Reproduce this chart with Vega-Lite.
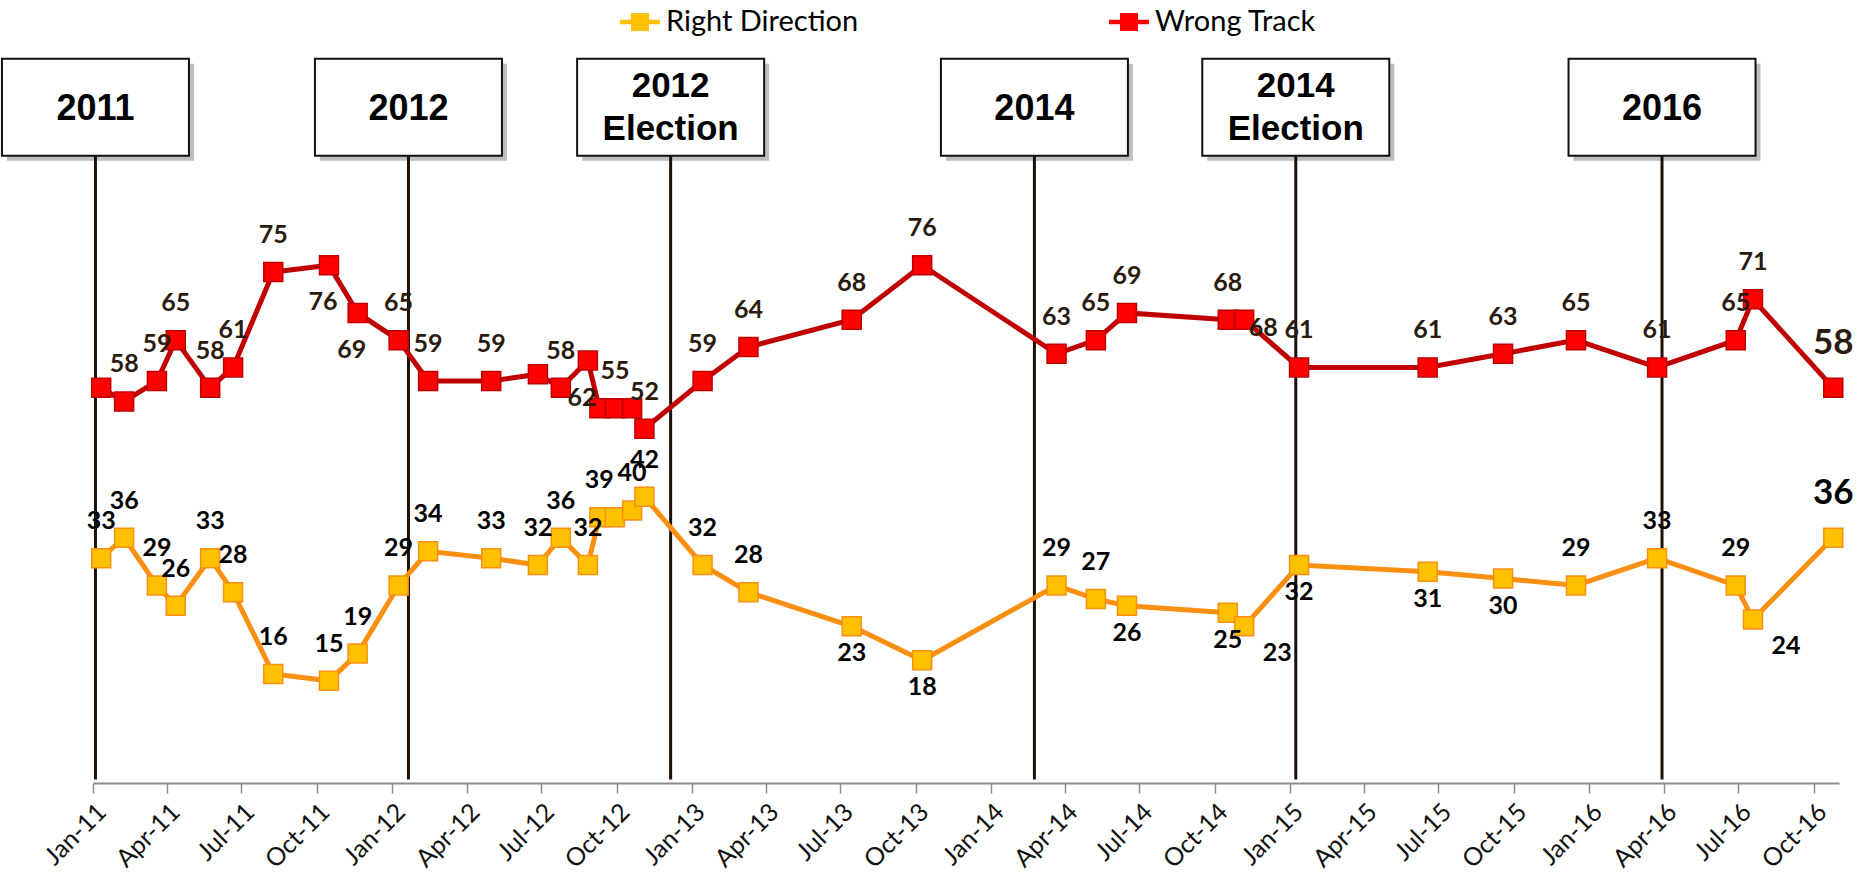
{
  "$schema": "https://vega.github.io/schema/vega-lite/v6.json",
  "width": 1746,
  "height": 729,
  "autosize": {"type": "none"},
  "padding": {"left": 93, "top": 54, "right": 33, "bottom": 109},
  "background": "white",
  "config": {"view": {"stroke": null}},
  "datasets": {
    "polls": [
      {"date": "2011-01-11", "series": "Right Direction", "value": 33, "label": "33"},
      {"date": "2011-02-08", "series": "Right Direction", "value": 36, "label": "36"},
      {"date": "2011-03-20", "series": "Right Direction", "value": 29, "label": "29"},
      {"date": "2011-04-12", "series": "Right Direction", "value": 26, "label": "26"},
      {"date": "2011-05-24", "series": "Right Direction", "value": 33, "label": "33"},
      {"date": "2011-06-21", "series": "Right Direction", "value": 28, "label": "28"},
      {"date": "2011-08-09", "series": "Right Direction", "value": 16, "label": "16"},
      {"date": "2011-10-16", "series": "Right Direction", "value": 15, "label": "15"},
      {"date": "2011-11-20", "series": "Right Direction", "value": 19, "label": "19"},
      {"date": "2012-01-09", "series": "Right Direction", "value": 29, "label": "29"},
      {"date": "2012-02-14", "series": "Right Direction", "value": 34, "label": "34"},
      {"date": "2012-05-01", "series": "Right Direction", "value": 33, "label": "33"},
      {"date": "2012-06-27", "series": "Right Direction", "value": 32, "label": "32"},
      {"date": "2012-07-25", "series": "Right Direction", "value": 36, "label": "36"},
      {"date": "2012-08-27", "series": "Right Direction", "value": 32, "label": "32"},
      {"date": "2012-09-10", "series": "Right Direction", "value": 39, "label": "39"},
      {"date": "2012-09-29", "series": "Right Direction", "value": 39, "label": ""},
      {"date": "2012-10-20", "series": "Right Direction", "value": 40, "label": "40"},
      {"date": "2012-11-04", "series": "Right Direction", "value": 42, "label": "42"},
      {"date": "2013-01-14", "series": "Right Direction", "value": 32, "label": "32"},
      {"date": "2013-03-11", "series": "Right Direction", "value": 28, "label": "28"},
      {"date": "2013-07-15", "series": "Right Direction", "value": 23, "label": "23"},
      {"date": "2013-10-09", "series": "Right Direction", "value": 18, "label": "18"},
      {"date": "2014-03-22", "series": "Right Direction", "value": 29, "label": "29"},
      {"date": "2014-05-09", "series": "Right Direction", "value": 27, "label": "27"},
      {"date": "2014-06-16", "series": "Right Direction", "value": 26, "label": "26"},
      {"date": "2014-10-17", "series": "Right Direction", "value": 25, "label": "25"},
      {"date": "2014-11-06", "series": "Right Direction", "value": 23, "label": "23"},
      {"date": "2015-01-12", "series": "Right Direction", "value": 32, "label": "32"},
      {"date": "2015-06-18", "series": "Right Direction", "value": 31, "label": "31"},
      {"date": "2015-09-18", "series": "Right Direction", "value": 30, "label": "30"},
      {"date": "2015-12-16", "series": "Right Direction", "value": 29, "label": "29"},
      {"date": "2016-03-24", "series": "Right Direction", "value": 33, "label": "33"},
      {"date": "2016-06-28", "series": "Right Direction", "value": 29, "label": "29"},
      {"date": "2016-07-19", "series": "Right Direction", "value": 24, "label": "24"},
      {"date": "2016-10-25", "series": "Right Direction", "value": 36, "label": "36"},
      {"date": "2011-01-11", "series": "Wrong Track", "value": 58, "label": ""},
      {"date": "2011-02-08", "series": "Wrong Track", "value": 56, "label": "58"},
      {"date": "2011-03-20", "series": "Wrong Track", "value": 59, "label": "59"},
      {"date": "2011-04-12", "series": "Wrong Track", "value": 65, "label": "65"},
      {"date": "2011-05-24", "series": "Wrong Track", "value": 58, "label": "58"},
      {"date": "2011-06-21", "series": "Wrong Track", "value": 61, "label": "61"},
      {"date": "2011-08-09", "series": "Wrong Track", "value": 75, "label": "75"},
      {"date": "2011-10-16", "series": "Wrong Track", "value": 76, "label": "76"},
      {"date": "2011-11-20", "series": "Wrong Track", "value": 69, "label": "69"},
      {"date": "2012-01-09", "series": "Wrong Track", "value": 65, "label": "65"},
      {"date": "2012-02-14", "series": "Wrong Track", "value": 59, "label": "59"},
      {"date": "2012-05-01", "series": "Wrong Track", "value": 59, "label": "59"},
      {"date": "2012-06-27", "series": "Wrong Track", "value": 60, "label": ""},
      {"date": "2012-07-25", "series": "Wrong Track", "value": 58, "label": "58"},
      {"date": "2012-08-27", "series": "Wrong Track", "value": 62, "label": "62"},
      {"date": "2012-09-10", "series": "Wrong Track", "value": 55, "label": ""},
      {"date": "2012-09-29", "series": "Wrong Track", "value": 55, "label": "55"},
      {"date": "2012-10-20", "series": "Wrong Track", "value": 55, "label": ""},
      {"date": "2012-11-04", "series": "Wrong Track", "value": 52, "label": "52"},
      {"date": "2013-01-14", "series": "Wrong Track", "value": 59, "label": "59"},
      {"date": "2013-03-11", "series": "Wrong Track", "value": 64, "label": "64"},
      {"date": "2013-07-15", "series": "Wrong Track", "value": 68, "label": "68"},
      {"date": "2013-10-09", "series": "Wrong Track", "value": 76, "label": "76"},
      {"date": "2014-03-22", "series": "Wrong Track", "value": 63, "label": "63"},
      {"date": "2014-05-09", "series": "Wrong Track", "value": 65, "label": "65"},
      {"date": "2014-06-16", "series": "Wrong Track", "value": 69, "label": "69"},
      {"date": "2014-10-17", "series": "Wrong Track", "value": 68, "label": "68"},
      {"date": "2014-11-06", "series": "Wrong Track", "value": 68, "label": "68"},
      {"date": "2015-01-12", "series": "Wrong Track", "value": 61, "label": "61"},
      {"date": "2015-06-18", "series": "Wrong Track", "value": 61, "label": "61"},
      {"date": "2015-09-18", "series": "Wrong Track", "value": 63, "label": "63"},
      {"date": "2015-12-16", "series": "Wrong Track", "value": 65, "label": "65"},
      {"date": "2016-03-24", "series": "Wrong Track", "value": 61, "label": "61"},
      {"date": "2016-06-28", "series": "Wrong Track", "value": 65, "label": "65"},
      {"date": "2016-07-19", "series": "Wrong Track", "value": 71, "label": "71"},
      {"date": "2016-10-25", "series": "Wrong Track", "value": 58, "label": "58"}
    ],
    "events": [
      {"date": "2011-01-04", "event": "2011"},
      {"date": "2012-01-21", "event": "2012"},
      {"date": "2012-12-06", "event": "2012\nElection"},
      {"date": "2014-02-23", "event": "2014"},
      {"date": "2015-01-08", "event": "2014\nElection"},
      {"date": "2016-03-30", "event": "2016"}
    ]
  },
  "data": {"name": "polls", "format": {"parse": {"date": "date"}}},
  "encoding": {
    "x": {
      "field": "date",
      "type": "temporal",
      "scale": {
        "type": "utc",
        "domain": [
          {"year": 2011, "month": 1, "date": 1, "utc": true},
          {"year": 2016, "month": 11, "date": 1, "utc": true}
        ]
      },
      "axis": {
        "title": null,
        "format": "%b-%y",
        "tickCount": {"interval": "month", "step": 3},
        "labelAngle": -45,
        "labelFont": "Lato",
        "labelFontSize": 25,
        "labelColor": "#111111",
        "labelPadding": 6,
        "labelOverlap": false,
        "domainColor": "#8c8c8c",
        "domainWidth": 2,
        "tickColor": "#8c8c8c",
        "tickWidth": 1.5,
        "tickSize": 10,
        "grid": false
      }
    }
  },
  "layer": [
    {
      "data": {"name": "events", "format": {"parse": {"date": "date"}}},
      "mark": {"type": "rect", "width": 187, "height": 97, "fill": "#6e6e6e", "opacity": 0.45, "xOffset": 5, "yOffset": 5, "clip": false},
      "encoding": {"y": {"datum": 99.2, "type": "quantitative", "scale": {"domain": [0, 107], "nice": false, "zero": true}, "axis": null}}
    },
    {
      "data": {"name": "events", "format": {"parse": {"date": "date"}}},
      "mark": {"type": "rule", "color": "#1e1006", "strokeWidth": 3},
      "encoding": {"y": {"datum": 0.5, "type": "quantitative"}, "y2": {"datum": 92}}
    },
    {
      "data": {"name": "events", "format": {"parse": {"date": "date"}}},
      "mark": {"type": "rect", "width": 187, "height": 97, "fill": "white", "stroke": "#111111", "strokeWidth": 2, "clip": false},
      "encoding": {"y": {"datum": 99.2, "type": "quantitative"}}
    },
    {
      "data": {"name": "events", "format": {"parse": {"date": "date"}}},
      "transform": [{"filter": "indexof(datum.event, 'Election') < 0"}],
      "mark": {"type": "text", "font": "Liberation Sans", "fontWeight": "bold", "fontSize": 36, "align": "center", "baseline": "middle", "color": "#000000"},
      "encoding": {"y": {"datum": 99.0, "type": "quantitative"}, "text": {"field": "event"}}
    },
    {
      "data": {"name": "events", "format": {"parse": {"date": "date"}}},
      "transform": [{"filter": "indexof(datum.event, 'Election') >= 0"}],
      "mark": {"type": "text", "font": "Liberation Sans", "fontWeight": "bold", "fontSize": 35, "lineHeight": 43, "lineBreak": "\n", "align": "center", "baseline": "middle", "dy": -21, "color": "#000000"},
      "encoding": {"y": {"datum": 99.2, "type": "quantitative"}, "text": {"field": "event"}}
    },
    {
      "mark": {"type": "line", "strokeWidth": 5},
      "encoding": {
        "y": {"field": "value", "type": "quantitative"},
        "color": {
          "field": "series",
          "type": "nominal",
          "scale": {"domain": ["Right Direction", "Wrong Track"], "range": ["#fb8f12", "#c00000"]},
          "legend": {
            "title": null,
            "orient": "none",
            "legendX": 527,
            "legendY": -52,
            "direction": "horizontal",
            "padding": 0,
            "columnPadding": 250,
            "symbolType": "M-1,-0.11L1,-0.11L1,0.11L-1,0.11Z M-0.45,-0.45L0.45,-0.45L0.45,0.45L-0.45,0.45Z",
            "symbolSize": 1600,
            "symbolStrokeWidth": 0,
            "labelFont": "Lato",
            "labelFontSize": 29,
            "labelColor": "#000000",
            "labelOffset": 6,
            "labelLimit": 400,
            "encode": {"symbols": {"update": {"fill": {"scale": "color", "field": "value"}, "strokeWidth": {"value": 0}, "opacity": {"value": 1}}}}
          }
        }
      }
    },
    {
      "mark": {"type": "point", "shape": "square", "size": 361, "filled": false, "strokeWidth": 1.5, "opacity": 1},
      "encoding": {
        "y": {"field": "value", "type": "quantitative"},
        "color": {"field": "series", "type": "nominal", "legend": null},
        "fill": {"field": "series", "type": "nominal", "scale": {"domain": ["Right Direction", "Wrong Track"], "range": ["#ffc000", "#ff0000"]}, "legend": null}
      }
    },
    {
      "transform": [{"filter": "datum.series=='Wrong Track' && indexof(['2011-10-16','2011-11-20','2012-08-27','2014-11-06','2016-10-25'], utcFormat(datum.date,'%Y-%m-%d')) < 0"}],
      "mark": {"type": "text", "font": "Lato", "fontWeight": "bold", "fontSize": 25, "color": "#2a1b0e", "baseline": "middle", "dy": -37},
      "encoding": {"y": {"field": "value", "type": "quantitative"}, "text": {"field": "label"}}
    },
    {
      "transform": [{"filter": "datum.series=='Wrong Track' && indexof(['2011-10-16','2011-11-20','2012-08-27'], utcFormat(datum.date,'%Y-%m-%d')) >= 0"}],
      "mark": {"type": "text", "font": "Lato", "fontWeight": "bold", "fontSize": 25, "color": "#2a1b0e", "baseline": "middle", "dy": 37, "dx": -6},
      "encoding": {"y": {"field": "value", "type": "quantitative"}, "text": {"field": "label"}}
    },
    {
      "transform": [{"filter": "datum.series=='Wrong Track' && utcFormat(datum.date,'%Y-%m-%d') == '2014-11-06'"}],
      "mark": {"type": "text", "font": "Lato", "fontWeight": "bold", "fontSize": 25, "color": "#2a1b0e", "baseline": "middle", "dy": 8, "dx": 19},
      "encoding": {"y": {"field": "value", "type": "quantitative"}, "text": {"field": "label"}}
    },
    {
      "transform": [{"filter": "datum.series=='Right Direction' && indexof(['2013-07-15','2013-10-09','2014-06-16','2014-10-17','2015-01-12','2015-06-18','2015-09-18','2014-11-06','2016-07-19','2016-10-25'], utcFormat(datum.date,'%Y-%m-%d')) < 0"}],
      "mark": {"type": "text", "font": "Lato", "fontWeight": "bold", "fontSize": 25, "color": "#000000", "baseline": "middle", "dy": -37},
      "encoding": {"y": {"field": "value", "type": "quantitative"}, "text": {"field": "label"}}
    },
    {
      "transform": [{"filter": "datum.series=='Right Direction' && indexof(['2013-07-15','2013-10-09','2014-06-16','2014-10-17','2015-01-12','2015-06-18','2015-09-18'], utcFormat(datum.date,'%Y-%m-%d')) >= 0"}],
      "mark": {"type": "text", "font": "Lato", "fontWeight": "bold", "fontSize": 25, "color": "#000000", "baseline": "middle", "dy": 27},
      "encoding": {"y": {"field": "value", "type": "quantitative"}, "text": {"field": "label"}}
    },
    {
      "transform": [{"filter": "datum.series=='Right Direction' && indexof(['2014-11-06','2016-07-19'], utcFormat(datum.date,'%Y-%m-%d')) >= 0"}],
      "mark": {"type": "text", "font": "Lato", "fontWeight": "bold", "fontSize": 25, "color": "#000000", "baseline": "middle", "dy": 27, "dx": 33},
      "encoding": {"y": {"field": "value", "type": "quantitative"}, "text": {"field": "label"}}
    },
    {
      "transform": [{"filter": "utcFormat(datum.date,'%Y-%m-%d') == '2016-10-25'"}],
      "mark": {"type": "text", "font": "Lato", "fontWeight": "bold", "fontSize": 35, "baseline": "middle", "dy": -45},
      "encoding": {
        "y": {"field": "value", "type": "quantitative"},
        "text": {"field": "label"},
        "color": {"condition": {"test": "datum.series=='Wrong Track'", "value": "#2a1b0e"}, "value": "#000000"}
      }
    }
  ]
}
